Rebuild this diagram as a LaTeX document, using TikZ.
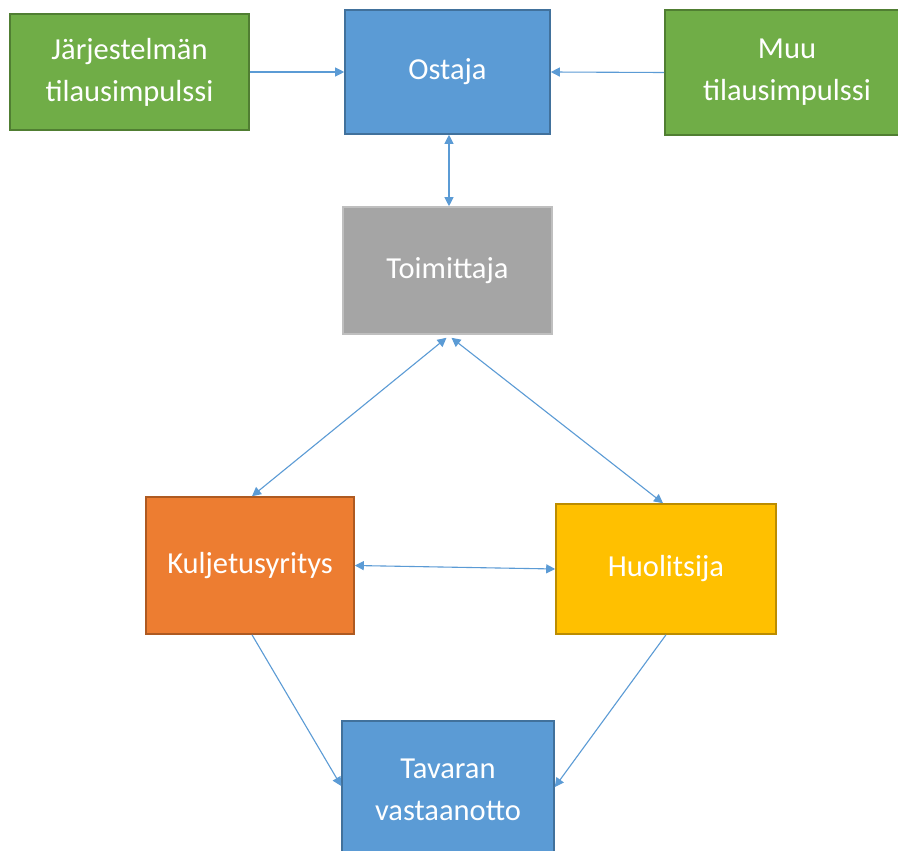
\documentclass[tikz,border=0pt]{standalone}
\usepackage{fontspec}
\setmainfont{Carlito}
\usetikzlibrary{arrows.meta}
\definecolor{cgreen}{HTML}{70AD47}
\definecolor{cgreenb}{HTML}{507E32}
\definecolor{cblue}{HTML}{5B9BD5}
\definecolor{cblueb}{HTML}{41719C}
\definecolor{cgray}{HTML}{A5A5A5}
\definecolor{cgrayb}{HTML}{BFBFBF}
\definecolor{corange}{HTML}{ED7D31}
\definecolor{corangeb}{HTML}{AE5A21}
\definecolor{cyellow}{HTML}{FFC000}
\definecolor{cyellowb}{HTML}{BC8C00}
\definecolor{carrow}{HTML}{5B9BD5}
\begin{document}
\begin{tikzpicture}[x=1pt,y=-1pt,
  box/.style={rectangle, inner sep=0pt, line width=1.6pt, text=white, align=center,
    font=\fontsize{30.5}{42}\selectfont},
  lbl/.style={inner sep=0pt, text=white, align=center, font=\fontsize{30.5}{42}\selectfont},
  conn/.style={draw=carrow, line width=1.1pt, -{Triangle[length=9pt,width=9pt]}},
  bconn/.style={draw=carrow, line width=1.1pt, {Triangle[length=9pt,width=9pt]}-{Triangle[length=9pt,width=9pt]}}
]
\useasboundingbox (0,0) rectangle (898,851);
\fill[white] (0,0) rectangle (898,851);
\node[box, fill=cgreen, draw=cgreenb, minimum width=239pt, minimum height=116pt] (jarj) at (129.5,72) {Järjestelmän\\tilausimpulssi};
\node[box, fill=cblue, draw=cblueb, minimum width=205pt, minimum height=124pt] (ostaja) at (447.5,72) {Ostaja};
\node[box, fill=cgreen, draw=cgreenb, minimum width=280pt, minimum height=125pt] (muu) at (805,72.5) {};
\node[lbl] (muut) at (787,72.5) {Muu\\tilausimpulssi};
\node[box, fill=cgray, draw=cgrayb, minimum width=209pt, minimum height=127pt] (toim) at (447.5,270.5) {Toimittaja};
\node[box, fill=corange, draw=corangeb, minimum width=208pt, minimum height=137pt] (kulj) at (250,565.5) {Kuljetusyritys};
\node[box, fill=cyellow, draw=cyellowb, minimum width=220pt, minimum height=130pt] (huol) at (666,569) {Huolitsija};
\node[box, fill=cblue, draw=cblueb, minimum width=212pt, minimum height=150pt] (tav) at (448,796) {};
\node[lbl] (tavt) at (448,790) {Tavaran\\vastaanotto};

\draw[conn] (jarj.east) -- (ostaja.west);
\draw[conn] (muu.west) -- (ostaja.east);
\draw[bconn] ([xshift=1.5pt]ostaja.south) -- ([xshift=1.5pt]toim.north);
\draw[bconn] ([xshift=-1pt,yshift=-3pt]toim.south) -- ([xshift=2pt]kulj.north);
\draw[bconn] ([xshift=4pt,yshift=-3pt]toim.south) -- ([xshift=-3pt]huol.north);
\draw[bconn] (kulj.east) -- (huol.west);
\draw[conn] ([xshift=2pt]kulj.south) -- ([yshift=10pt]tav.west);
\draw[conn] (huol.south) -- ([yshift=9pt]tav.east);
\end{tikzpicture}
\end{document}
